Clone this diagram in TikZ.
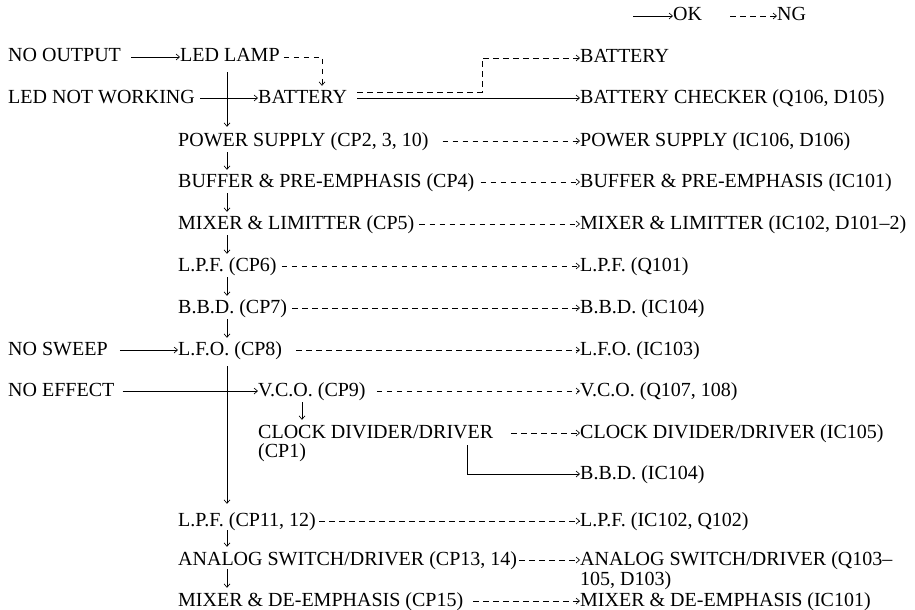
\documentclass[tikz,border=0pt]{standalone}
\usepackage{fontspec}
\setmainfont{Liberation Serif}
\usetikzlibrary{arrows.meta}
\tikzset{
  txt/.style={anchor=base west, inner sep=0pt, text height=10pt, text depth=0pt, font=\fontsize{20}{22}\selectfont},
  okarrow/.style={draw, line width=0.65pt, -{Straight Barb[length=3.5pt,width=6pt,line width=0.65pt]}},
  ngarrow/.style={okarrow, dash pattern=on 5.5pt off 4.5pt},
}
\begin{document}
\begin{tikzpicture}[x=1pt,y=-1pt]
\useasboundingbox (0,0) rectangle (915,610);
\coordinate (col) at (227,0);
\coordinate (vcol) at (302,0);
% legend
\node[txt] (ok) at (673,21) {OK};
\node[txt] (ng) at (777,21) {NG};
\coordinate (okS) at (633,16);
\coordinate (ngS) at (730,16);
\draw[okarrow] (okS) -- (ok.west);
\draw[ngarrow] (ngS) -- (ng.west);
% nodes
\node[txt] (noout) at (8,62) {NO OUTPUT};
\node[txt] (lamp) at (180,62) {LED LAMP};
\node[txt] (ledn) at (8,103) {LED NOT WORKING};
\node[txt] (bat) at (258,103) {BATTERY};
\node[txt] (batr) at (580,63) {BATTERY};
\node[txt] (bchk) at (580,103) {BATTERY CHECKER (Q106, D105)};
\node[txt] (ps) at (178,146) {POWER SUPPLY (CP2, 3, 10)};
\node[txt] (psr) at (580,146) {POWER SUPPLY (IC106, D106)};
\node[txt] (buf) at (178,187) {BUFFER \& PRE-EMPHASIS (CP4)};
\node[txt] (bufr) at (580,187) {BUFFER \& PRE-EMPHASIS (IC101)};
\node[txt] (mix) at (178,229) {MIXER \& LIMITTER (CP5)};
\node[txt] (mixr) at (580,229) {MIXER \& LIMITTER (IC102, D101–2)};
\node[txt] (lpf) at (178,271) {L.P.F. (CP6)};
\node[txt] (lpfr) at (580,271) {L.P.F. (Q101)};
\node[txt] (bbd) at (178,313) {B.B.D. (CP7)};
\node[txt] (bbdr) at (580,313) {B.B.D. (IC104)};
\node[txt] (nosw) at (8,355) {NO SWEEP};
\node[txt] (lfo) at (178,355) {L.F.O. (CP8)};
\node[txt] (lfor) at (580,355) {L.F.O. (IC103)};
\node[txt] (noeff) at (8,396) {NO EFFECT};
\node[txt] (vco) at (258,396) {V.C.O. (CP9)};
\node[txt] (vcor) at (580,396) {V.C.O. (Q107, 108)};
\node[txt] (clk) at (258,438) {CLOCK DIVIDER/DRIVER};
\node[txt] (cp1) at (258,457) {(CP1)};
\node[txt] (clkr) at (580,438) {CLOCK DIVIDER/DRIVER (IC105)};
\node[txt] (bbd2) at (580,479) {B.B.D. (IC104)};
\node[txt] (lpf2) at (178,526) {L.P.F. (CP11, 12)};
\node[txt] (lpf2r) at (580,526) {L.P.F. (IC102, Q102)};
\node[txt] (ana) at (178,565) {ANALOG SWITCH/DRIVER (CP13, 14)};
\node[txt] (anar) at (580,565) {ANALOG SWITCH/DRIVER (Q103–};
\node[txt] (ana2) at (580,585) {105, D103)};
\node[txt] (mde) at (178,606) {MIXER \& DE-EMPHASIS (CP15)};
\node[txt] (mder) at (580,606) {MIXER \& DE-EMPHASIS (IC101)};
% OK connectors
\draw[okarrow] ([xshift=10pt]noout.east) -- (lamp.west);
\draw[okarrow] ([yshift=-10pt]lamp.south -| col) -- ([yshift=9pt]ps.north -| col);
\draw[okarrow] ([xshift=5pt]ledn.east) -- (bat.west);
\draw[okarrow] ([xshift=10pt]bat.east) -- (bchk.west);
\draw[okarrow] ([yshift=-6pt]ps.south -| col) -- ([yshift=7pt]buf.north -| col);
\draw[okarrow] ([yshift=-6pt]buf.south -| col) -- ([yshift=7pt]mix.north -| col);
\draw[okarrow] ([yshift=-6pt]mix.south -| col) -- ([yshift=7pt]lpf.north -| col);
\draw[okarrow] ([yshift=-6pt]lpf.south -| col) -- ([yshift=7pt]bbd.north -| col);
\draw[okarrow] ([yshift=-6pt]bbd.south -| col) -- ([yshift=7pt]lfo.north -| col);
\draw[okarrow] ([xshift=12pt]nosw.east) -- (lfo.west);
\draw[okarrow] ([yshift=-11pt]lfo.south -| col) -- ([yshift=12pt]lpf2.north -| col);
\draw[okarrow] ([xshift=8pt]noeff.east) -- (vco.west);
\draw[okarrow] ([yshift=-6pt]vco.south -| vcol) -- ([yshift=8pt]clk.north -| vcol);
\draw[okarrow] ([shift={(-26pt,-7pt)}]clk.south east) |- (bbd2.west);
\draw[okarrow] ([yshift=-4pt]lpf2.south -| col) -- ([yshift=8pt]ana.north -| col);
\draw[okarrow] ([yshift=-4pt]ana.south -| col) -- ([yshift=8pt]mde.north -| col);
% NG connectors
\draw[ngarrow] ([xshift=4pt]lamp.east) -| ([shift={(64pt,7pt)}]bat.north west);
\draw[ngarrow] ([shift={(10pt,6pt)}]bat.east) -| ([xshift=-98pt]batr.west) -- (batr.west);
\draw[ngarrow] ([xshift=14pt]ps.east) -- (psr.west);
\draw[ngarrow] ([xshift=6pt]buf.east) -- (bufr.west);
\draw[ngarrow] ([xshift=5pt]mix.east) -- (mixr.west);
\draw[ngarrow] ([xshift=5pt]lpf.east) -- (lpfr.west);
\draw[ngarrow] ([xshift=5pt]bbd.east) -- (bbdr.west);
\draw[ngarrow] ([xshift=14pt]lfo.east) -- (lfor.west);
\draw[ngarrow] ([xshift=11pt]vco.east) -- (vcor.west);
\draw[ngarrow] ([xshift=18pt]clk.east) -- (clkr.west);
\draw[ngarrow] ([xshift=3pt]lpf2.east) -- (lpf2r.west);
\draw[ngarrow] ([xshift=2pt]ana.east) -- (anar.west);
\draw[ngarrow] ([xshift=10pt]mde.east) -- (mder.west);
\end{tikzpicture}
\end{document}
